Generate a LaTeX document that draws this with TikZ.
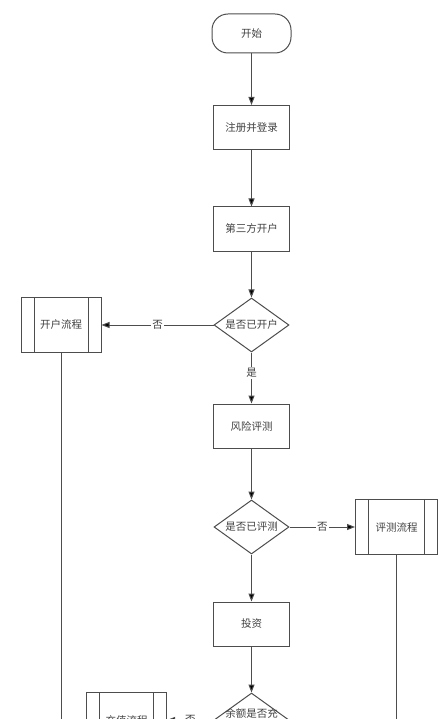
\documentclass[tikz,border=0pt]{standalone}
\usepackage{fontspec}
\newfontfamily\cjk{Noto Sans CJK SC}
\usetikzlibrary{shapes.geometric,arrows.meta}
\definecolor{linegray}{HTML}{4D4D4D}
\definecolor{textgray}{HTML}{404040}
\tikzset{
  base/.style={draw=linegray, line width=1pt, text=textgray,
    font=\cjk\fontsize{10.5}{13}\selectfont, inner sep=0pt},
  terminal/.style={base, rectangle, rounded corners=16pt, minimum width=79pt, minimum height=39pt},
  stepbox/.style={base, rectangle, minimum width=76pt, minimum height=44pt},
  decision/.style={base, diamond, aspect=1.4, minimum width=75pt, minimum height=54pt},
  subproc/.style={base, rectangle, minimum width=80pt, minimum height=55pt,
    path picture={\draw[linegray, line width=1pt]
      ([xshift=13pt]path picture bounding box.north west) -- ([xshift=13pt]path picture bounding box.south west)
      ([xshift=-13pt]path picture bounding box.north east) -- ([xshift=-13pt]path picture bounding box.south east);}},
  flow/.style={draw=linegray, line width=1pt, -{Triangle[length=8pt,width=6pt]}},
  plain/.style={draw=linegray, line width=1pt},
  branch/.style={fill=white, text=textgray, font=\cjk\fontsize{10.5}{13}\selectfont, inner sep=1.5pt}
}
\begin{document}
\begin{tikzpicture}
  \useasboundingbox (0,0) rectangle (446pt,-719pt);
  \clip (0,0) rectangle (446pt,-719pt);
  \node (start) [terminal] at (251.5pt,-33.5pt) {开始};
  \node (login) [stepbox, below of=start, node distance=94pt] {注册并登录};
  \node (acct) [stepbox, below of=login, node distance=101.5pt] {第三方开户};
  \node (hasacct) [decision, below of=acct, node distance=96pt] {是否已开户};
  \node (openflow) [subproc, left of=hasacct, node distance=190.5pt] {开户流程};
  \node (risk) [stepbox, below of=hasacct, node distance=101pt] {风险评测};
  \node (hasrisk) [decision, below of=risk, node distance=101pt] {是否已评测};
  \node (evalflow) [subproc, right of=hasrisk, node distance=145pt, minimum width=82pt] {评测流程};
  \node (invest) [stepbox, below of=hasrisk, node distance=97pt] {投资};
  \node (enough) [decision, below of=invest, node distance=96pt,
    label={[branch, fill=none, align=center]center:余额是否充\\足}] {};
  \node (topup) [subproc, left of=enough, node distance=125pt] {充值流程};
  \coordinate (openend) at ([yshift=-500pt]openflow.south);
  \coordinate (evalend) at ([yshift=-300pt]evalflow.south);
  \path[flow] (start) edge (login)
              (login) edge (acct)
              (acct) edge (hasacct)
              (hasacct) edge node[branch] {否} (openflow)
              (hasacct) edge node[branch, pos=0.4] {是} (risk)
              (risk) edge (hasrisk)
              (hasrisk) edge node[branch] {否} (evalflow)
              (hasrisk) edge (invest)
              (invest) edge (enough)
              (enough) edge node[branch] {否} (topup)
              ;
  \path[plain] (openflow) edge (openend)
               (evalflow) edge (evalend);
\end{tikzpicture}
\end{document}
